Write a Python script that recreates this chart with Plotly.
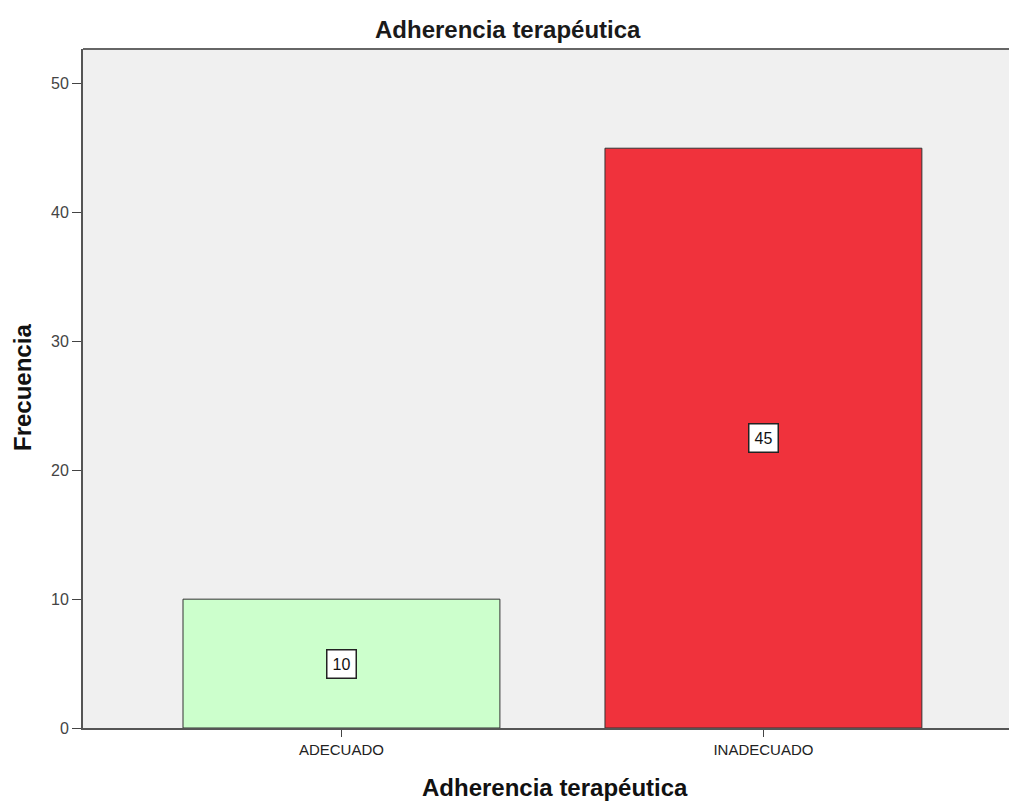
import plotly.graph_objects as go

# Frequency of therapeutic adherence categories
categories = ["ADECUADO", "INADECUADO"]
counts = [10, 45]
bar_colors = ["#CCFFCC", "#F0323C"]

y_ticks = [0, 10, 20, 30, 40, 50]

W, H = 1009, 802
L, R, T, B = 83, 0, 49, 74
FONT = "Liberation Sans, Arial"

fig = go.Figure()
fig.add_trace(go.Bar(
    x=[0, 1],
    y=counts,
    width=0.751,
    marker=dict(color=bar_colors, line=dict(color="#333333", width=1)),
    hoverinfo="skip",
))

# Value labels in white boxes at the middle of each bar
for i, v in enumerate(counts):
    fig.add_annotation(
        x=i, y=v / 2, text=str(v), showarrow=False,
        font=dict(family=FONT, size=16, color="#111111"),
        bgcolor="white", bordercolor="#222222", borderwidth=1.5, borderpad=5,
    )

# Chart title and axis titles placed in paper coordinates
def px_x(px):
    return (px - L) / (W - L - R)

def px_y(py):
    return (H - B - py) / (H - T - B)

fig.add_annotation(
    xref="paper", yref="paper", x=px_x(508), y=px_y(29),
    text="<b>Adherencia terapéutica</b>", showarrow=False,
    xanchor="center", yanchor="middle",
    font=dict(family=FONT, size=24, color="#1a1a1a"),
)
fig.add_annotation(
    xref="paper", yref="paper", x=px_x(555), y=px_y(788),
    text="<b>Adherencia terapéutica</b>", showarrow=False,
    xanchor="center", yanchor="middle",
    font=dict(family=FONT, size=24, color="#111111"),
)
fig.add_annotation(
    xref="paper", yref="paper", x=px_x(22), y=px_y(388),
    text="<b>Frecuencia</b>", showarrow=False, textangle=-90,
    xanchor="center", yanchor="middle",
    font=dict(family=FONT, size=24, color="#111111"),
)

fig.update_layout(
    width=W, height=H,
    margin=dict(l=L, r=R, t=T, b=B),
    paper_bgcolor="white",
    plot_bgcolor="#F0F0F0",
    showlegend=False,
    xaxis=dict(
        range=[-0.6125, 1.582],
        tickvals=[0, 1], ticktext=categories,
        ticks="outside", ticklen=7, tickcolor="#444444", tickwidth=1,
        tickfont=dict(family=FONT, size=15, color="#222222"),
        showline=True, linecolor="#555555", linewidth=2,
        showgrid=False, zeroline=False, fixedrange=True,
    ),
    yaxis=dict(
        range=[0, 52.7],
        tickvals=y_ticks,
        ticks="outside", ticklen=9, tickcolor="#444444", tickwidth=1,
        tickfont=dict(family=FONT, size=16, color="#444444"),
        showline=True, linecolor="#555555", linewidth=2,
        showgrid=False, zeroline=False, fixedrange=True,
    ),
)

# Top border of the plot area
fig.add_shape(type="line", xref="paper", yref="paper", x0=0, x1=1, y0=1, y1=1,
              line=dict(color="#666666", width=2))

fig.write_html("out.html")
